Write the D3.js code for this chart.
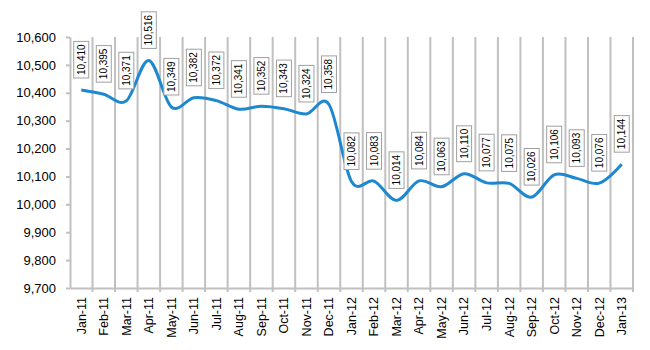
<!DOCTYPE html>
<html lang="en">
<head>
<meta charset="UTF-8">
<title>Monthly values</title>
<script src="https://d3js.org/d3.v7.min.js"></script>
<style>
  body { margin: 0; background: #fff; font-family: "Liberation Sans", Arial, sans-serif; }
  .axis text { font-size: 12.5px; fill: #000; }
  .axis path, .axis line { stroke: #c0c0c0; stroke-width: 2px; }
  .grid line { stroke: #c0c0c0; stroke-width: 2px; }
  .lbl text { font-size: 10px; fill: #000; }
  .lbl rect { fill: #fff; stroke: #a0a0a0; stroke-width: 1px; }
</style>
</head>
<body>
<div id="chart"></div>
<script>
// months on the x axis
var months = ["Jan-11", "Feb-11", "Mar-11", "Apr-11", "May-11", "Jun-11", "Jul-11", "Aug-11",
  "Sep-11", "Oct-11", "Nov-11", "Dec-11", "Jan-12", "Feb-12", "Mar-12", "Apr-12", "May-12",
  "Jun-12", "Jul-12", "Aug-12", "Sep-12", "Oct-12", "Nov-12", "Dec-12", "Jan-13"];
// values per month
var values = [10410, 10395, 10371, 10516, 10349, 10382, 10372, 10341, 10352, 10343, 10324, 10358,
  10082, 10083, 10014, 10084, 10063, 10110, 10077, 10075, 10026, 10106, 10093, 10076, 10144];
// y tick values
var yTicks = [9700, 9800, 9900, 10000, 10100, 10200, 10300, 10400, 10500, 10600];

var W = 650, H = 350;
var plotL = 70, plotR = 633, plotT = 37, plotB = 288;

var svg = d3.select("#chart").append("svg").attr("width", W).attr("height", H);

var x = d3.scaleBand().domain(months).range([plotL, plotR]).padding(0);
var y = d3.scaleLinear().domain([9700, 10600]).range([plotB, plotT]);
var fmt = d3.format(",");

// vertical gridlines at category boundaries
var bounds = months.map(m => x(m)).concat([plotR]);
svg.append("g").attr("class", "grid")
  .selectAll("line").data(bounds.slice(1)).enter().append("line")
  .attr("x1", d => d).attr("x2", d => d)
  .attr("y1", plotT).attr("y2", plotB + 4);

// y axis
svg.append("g").attr("class", "axis")
  .attr("transform", "translate(" + plotL + ",0)")
  .call(d3.axisLeft(y).tickValues(yTicks).tickFormat(fmt).tickSize(4).tickSizeOuter(0).tickPadding(10))
  .selectAll("text").style("font-size", "13px");

// x axis
var xAxis = svg.append("g").attr("class", "axis")
  .attr("transform", "translate(0," + plotB + ")")
  .call(d3.axisBottom(x).tickSize(0).tickSizeOuter(0));
xAxis.selectAll("text")
  .attr("transform", "rotate(-90)")
  .attr("text-anchor", "end")
  .attr("dy", "0.35em")
  .attr("x", -9)
  .attr("y", 0);

// smoothed line
var pts = months.map((m, i) => ({ m: m, v: values[i] }));
var line = d3.line()
  .x(d => x(d.m) + x.bandwidth() / 2)
  .y(d => y(d.v))
  .curve(d3.curveCardinal.tension(0));

svg.append("path").datum(pts)
  .attr("d", line)
  .attr("fill", "none")
  .attr("stroke", "#1d88d0")
  .attr("stroke-width", 3);

// data labels in boxes
var lbl = svg.append("g").attr("class", "lbl")
  .selectAll("g").data(pts).enter().append("g")
  .attr("transform", d => "translate(" + (x(d.m) + x.bandwidth() / 2) + "," + (y(d.v) - 12) + ") rotate(-90)");

lbl.append("rect");
lbl.append("text")
  .attr("x", 3)
  .attr("y", 0)
  .attr("dy", "0.35em")
  .text(d => fmt(d.v));
lbl.each(function () {
  var g = d3.select(this);
  var w = g.select("text").node().getComputedTextLength();
  g.select("rect").attr("x", 0).attr("y", -7.5).attr("width", w + 6).attr("height", 15);
});
</script>
</body>
</html>
